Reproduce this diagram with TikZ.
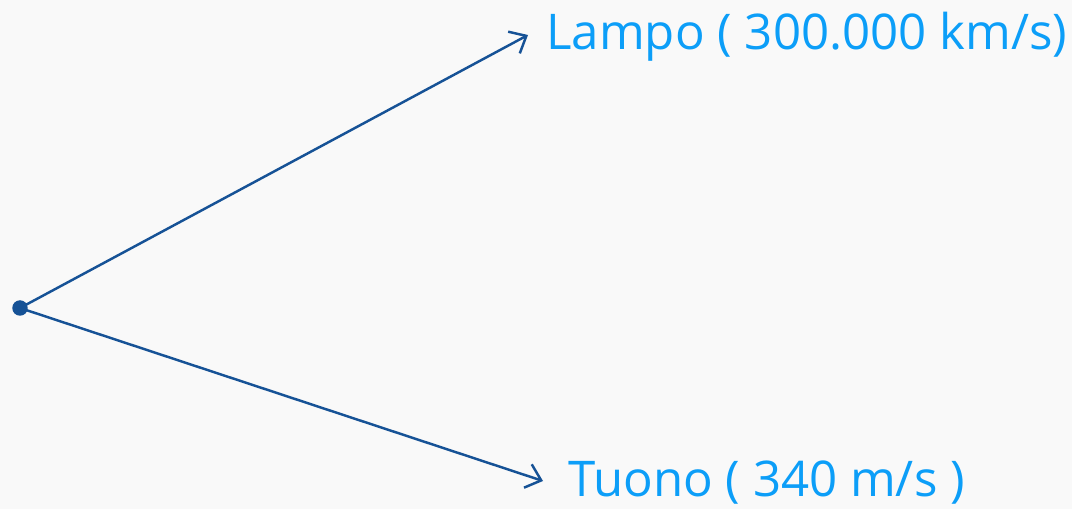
\documentclass[tikz,border=0pt]{standalone}
\usepackage{fontspec}
\setmainfont{Open Sans}
\usetikzlibrary{arrows.meta}
\definecolor{bgpaper}{RGB}{249,249,249}
\definecolor{rayblue}{RGB}{22,82,150}
\definecolor{labelblue}{RGB}{12,158,248}
\tikzset{
  ray/.style={draw=rayblue, line width=1.4pt, -{Straight Barb[length=8pt,width=14pt,line width=1.4pt]}},
  speedlabel/.style={text=labelblue, font=\fontsize{28}{30}\selectfont, inner sep=0pt, anchor=base west},
}
\begin{document}
\begin{tikzpicture}[x=0.02cm, y=-0.02cm]
  % page and background
  \fill[bgpaper] (0,0) rectangle (1072,509);
  \useasboundingbox (0,0) rectangle (1072,509);
  % source point
  \node[circle, fill=rayblue, inner sep=0pt, minimum size=0.31cm] (src) at (20,308) {};
  % ray end points
  \coordinate (tipL) at (528,35);
  \coordinate (tipT) at (543,481);
  % labels
  \node[speedlabel] (lampo) at (546,50) {Lampo ( 300.000 km/s)};
  \node[speedlabel] (tuono) at (568,497) {Tuono ( 340 m/s )};
  % rays
  \draw[ray] (src.center) -- (tipL);
  \draw[ray] (src.center) -- (tipT);
\end{tikzpicture}
\end{document}
